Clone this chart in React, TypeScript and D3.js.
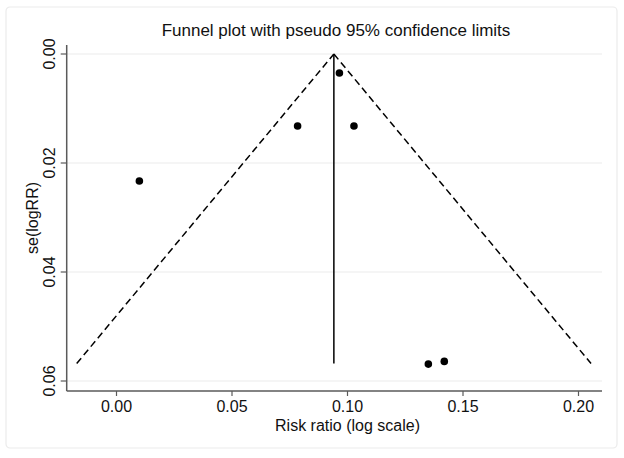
import React from "react";
import * as d3 from "d3";

const W = 624;
const H = 458;

const studyRR = [0.0965, 0.0784, 0.1028, 0.0099, 0.135, 0.1419];
const studySE = [0.0035, 0.0132, 0.0132, 0.0233, 0.0569, 0.0564];
const pooled = 0.0941;
const maxSE = 0.0568;
const xTicks = [0, 0.05, 0.1, 0.15, 0.2];
const yTicks = [0, 0.02, 0.04, 0.06];
const title = "Funnel plot with pseudo 95% confidence limits";
const xLabel = "Risk ratio (log scale)";
const yLabel = "se(logRR)";

const FONT = "'Liberation Sans', Arial, Helvetica, sans-serif";

export default function App() {
  const x = d3.scaleLinear().domain([0, 0.2]).range([116.5, 578.5]);
  const y = d3.scaleLinear().domain([0, 0.06]).range([54, 381]);
  const x0 = 66.7, x1 = 602;
  const yTop = 45, yBot = 391;

  const funnel = d3.line<[number, number]>().x((d) => x(d[0])).y((d) => y(d[1]));
  const left: [number, number][] = [[pooled - 1.96 * maxSE, maxSE], [pooled, 0]];
  const right: [number, number][] = [[pooled, 0], [pooled + 1.96 * maxSE, maxSE]];

  return (
    <svg width={W} height={H} style={{ position: "absolute", left: 0, top: 0, background: "#fff" }}>
      <rect x={6} y={7} width={611} height={441} rx={4} fill="#fff" stroke="#ebebeb" strokeWidth={1.2} />
      {yTicks.map((t) => (
        <line key={"g" + t} x1={x0} x2={x1} y1={y(t)} y2={y(t)} stroke="#ececec" strokeWidth={1.2} />
      ))}
      {/* axes */}
      <line x1={x0} x2={x0} y1={yTop} y2={yBot} stroke="#5a5a5a" strokeWidth={1.5} />
      <line x1={x0} x2={x1} y1={yBot} y2={yBot} stroke="#5a5a5a" strokeWidth={1.5} />
      {yTicks.map((t) => (
        <g key={"y" + t}>
          <line x1={x0 - 6} x2={x0} y1={y(t)} y2={y(t)} stroke="#5a5a5a" strokeWidth={1.2} />
          <text
            transform={`translate(55,${y(t)}) rotate(-90)`}
            textAnchor="middle"
            fontFamily={FONT}
            fontSize={16}
            fill="#111"
          >
            {t.toFixed(2)}
          </text>
        </g>
      ))}
      {xTicks.map((t) => (
        <g key={"x" + t}>
          <line x1={x(t)} x2={x(t)} y1={yBot} y2={yBot + 5} stroke="#5a5a5a" strokeWidth={1.2} />
          <text x={x(t)} y={412} textAnchor="middle" fontFamily={FONT} fontSize={16} fill="#111">
            {t.toFixed(2)}
          </text>
        </g>
      ))}
      <text x={x(0.1)} y={431} textAnchor="middle" fontFamily={FONT} fontSize={16} fill="#111">
        {xLabel}
      </text>
      <text
        transform={`translate(38,${(yTop + yBot) / 2}) rotate(-90)`}
        textAnchor="middle"
        fontFamily={FONT}
        fontSize={16}
        fill="#111"
      >
        {yLabel}
      </text>
      <text x={336} y={36} textAnchor="middle" fontFamily={FONT} fontSize={17} fill="#111">
        {title}
      </text>
      {/* funnel */}
      <path d={funnel(left) || ""} fill="none" stroke="#000" strokeWidth={1.5} strokeDasharray="7,4" />
      <path d={funnel(right) || ""} fill="none" stroke="#000" strokeWidth={1.5} strokeDasharray="7,4" />
      <line x1={x(pooled)} x2={x(pooled)} y1={y(0)} y2={y(maxSE)} stroke="#000" strokeWidth={1.5} />
      {studyRR.map((r, i) => (
        <circle key={i} cx={x(r)} cy={y(studySE[i])} r={3.8} fill="#000" />
      ))}
    </svg>
  );
}
